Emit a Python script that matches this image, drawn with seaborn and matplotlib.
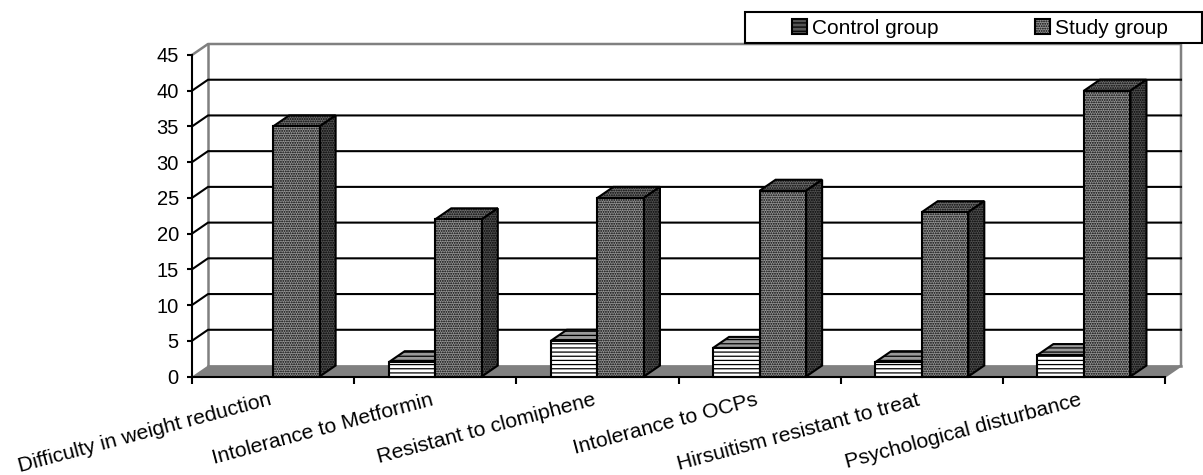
"""Clustered pseudo-3D bars: control vs study group problems."""

import matplotlib
matplotlib.use("Agg")
import matplotlib.pyplot as plt
from matplotlib.patches import Patch, Polygon, Rectangle
from matplotlib.transforms import ScaledTranslation
import numpy as np
import pandas as pd
import seaborn as sns

CATEGORIES = [
    "Difficulty in weight reduction",
    "Intolerance to Metformin",
    "Resistant to clomiphene",
    "Intolerance to OCPs",
    "Hirsuitism resistant to treat",
    "Psychological disturbance",
]
CONTROL = [0, 2, 5, 4, 2, 3]
STUDY = [35, 22, 25, 26, 23, 40]
GROUPS = ["Control group", "Study group"]
Y_TICKS = [0, 5, 10, 15, 20, 25, 30, 35, 40, 45]

W, H = 1203, 475
LEFT, RIGHT, BOTTOM, TOP = 192, 1165, 376.5, 55  # axes box in pixels
DX = 16 / ((RIGHT - LEFT) / 6)  # depth in data units
DY = 11 / ((BOTTOM - TOP) / 45)
LW = 1.5
GREY = "#808080"

plt.rcParams["font.family"] = ["Liberation Sans", "DejaVu Sans"]
plt.rcParams["hatch.linewidth"] = 0.9

df = pd.DataFrame({
    "category": CATEGORIES * 2,
    "group": [GROUPS[0]] * 6 + [GROUPS[1]] * 6,
    "value": CONTROL + STUDY,
})

fig = plt.figure(figsize=(W / 100, H / 100), dpi=100)
ax = fig.add_axes([LEFT / W, 1 - BOTTOM / H, (RIGHT - LEFT) / W, (BOTTOM - TOP) / H])

sns.barplot(data=df, x="category", y="value", hue="group", hue_order=GROUPS,
            width=0.574, gap=0, legend=False, ax=ax)
ax.set_xlim(-0.5, 5.5)
ax.set_ylim(0, 45)
ax.patch.set_visible(False)


def add_poly(points, zorder, **kw):
    ax.add_patch(Polygon(points, closed=True, clip_on=False, zorder=zorder, **kw))


# back wall, side wall and floor
x0, x1 = -0.5, 5.5
add_poly([(x0, 0), (x1, 0), (x1 + DX, DY), (x0 + DX, DY)], 1, fc=GREY, ec="none")
wall = dict(color=GREY, lw=LW + 0.3, clip_on=False, zorder=1.5)
ax.plot([x0, x0 + DX, x1 + DX, x1 + DX, x1], [45, 45 + DY, 45 + DY, DY, 0], **wall)
ax.plot([x0 + DX, x0 + DX], [DY, 45 + DY], **wall)
ax.plot([x0 + DX, x1 + DX], [DY, DY], **wall)
for tick in Y_TICKS[1:-1]:
    ax.plot([x0, x0 + DX, x1 + DX], [tick, tick + DY, tick + DY],
            color="black", lw=LW, clip_on=False, zorder=2)

# front faces from seaborn, tops and sides built on their geometry
styles = [
    dict(front=("white", "----"), top=("#9a9a9a", "----"), side=("#555555", "----"), z=3),
    dict(front=("#969696", "......."), top=("#707070", "......."), side=("#505050", "......."), z=5),
]
for container, st in zip(ax.containers, styles):
    for bar in container:
        xl, w, h = bar.get_x(), bar.get_width(), bar.get_height()
        if h == 0:
            bar.set_visible(False)
            continue
        xr = xl + w
        bar.set(facecolor=st["front"][0], hatch=st["front"][1], edgecolor="black",
                linewidth=LW, zorder=st["z"] + 0.5, clip_on=False)
        add_poly([(xl, h), (xr, h), (xr + DX, h + DY), (xl + DX, h + DY)], st["z"],
                 fc=st["top"][0], hatch=st["top"][1], ec="black", lw=LW)
        add_poly([(xr, 0), (xr + DX, DY), (xr + DX, h + DY), (xr, h)], st["z"],
                 fc=st["side"][0], hatch=st["side"][1], ec="black", lw=LW)

for side in ["top", "right"]:
    ax.spines[side].set_visible(False)
for side in ["left", "bottom"]:
    ax.spines[side].set_linewidth(LW)
    ax.spines[side].set_zorder(8)

ax.set_xlabel("")
ax.set_ylabel("")
ax.set_yticks(Y_TICKS)
ax.tick_params(axis="y", labelsize=14.5, length=3.5, width=LW, pad=6)
ax.set_xticks(np.arange(x0, x1 + 0.5), minor=True)
ax.tick_params(axis="x", which="minor", length=5, width=LW)
ax.tick_params(axis="x", which="major", length=0, labelsize=15.2, pad=10)
shift = ScaledTranslation(-5 / 100, 0, fig.dpi_scale_trans)
for label in ax.get_xticklabels():
    label.set(rotation=15, ha="right", va="top", rotation_mode="anchor")
    label.set_transform(label.get_transform() + shift)

# legend box first, then the entries on top of it
fig.add_artist(Rectangle((745 / W, 1 - 43 / H), 457 / W, 31 / H, transform=fig.transFigure,
                         fc="white", ec="black", lw=LW, zorder=9))
handles = [
    Patch(fc="#555555", ec="black", hatch="----", lw=LW),
    Patch(fc="#969696", ec="black", hatch=".......", lw=LW),
]
leg = fig.legend(handles, GROUPS, ncol=2, loc="center left",
                 bbox_to_anchor=(792 / W, 1 - 28 / H),
                 fontsize=15, frameon=False, handlelength=0.72, handleheight=0.72,
                 handletextpad=0.25, columnspacing=4.6, borderpad=0, borderaxespad=0)
leg.set_zorder(10)

fig.savefig("out.png", dpi=100)
